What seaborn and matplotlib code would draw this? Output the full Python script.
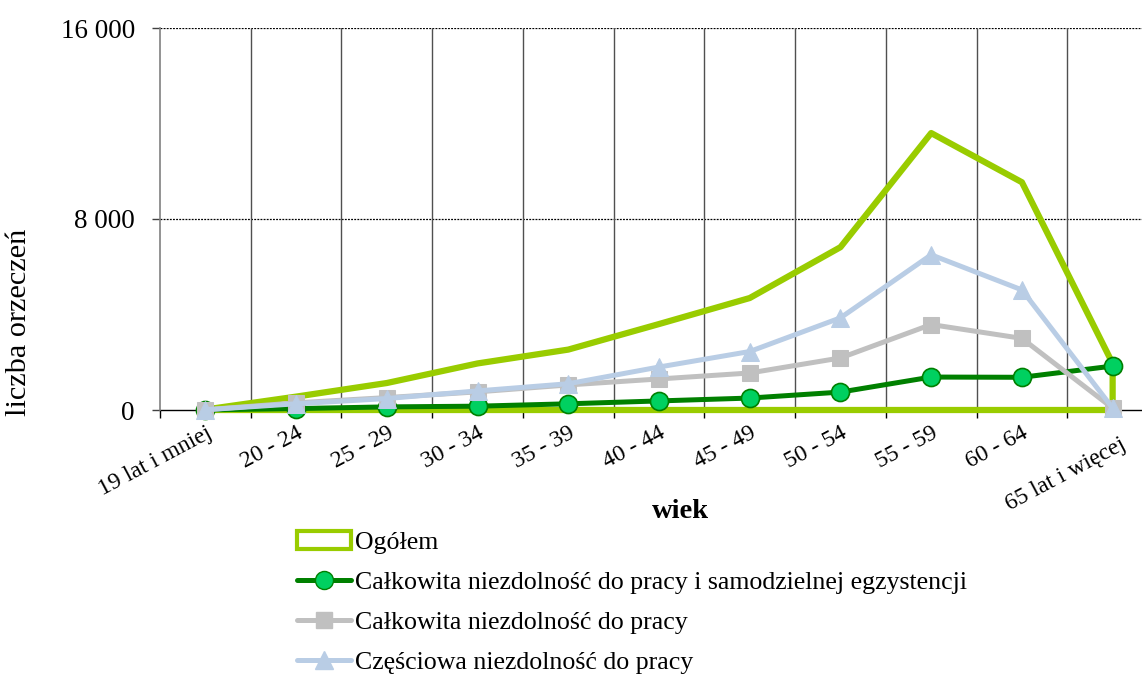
import numpy as np
import matplotlib
matplotlib.use("Agg")
import matplotlib.pyplot as plt
from matplotlib.patches import Patch
from matplotlib.lines import Line2D
from matplotlib.ticker import FuncFormatter, FixedLocator
from matplotlib.transforms import ScaledTranslation
import seaborn as sns

categories = ["19 lat i mniej", "20 - 24", "25 - 29", "30 - 34", "35 - 39", "40 - 44",
              "45 - 49", "50 - 54", "55 - 59", "60 - 64", "65 lat i więcej"]
ogolem = [20, 560, 1130, 1950, 2530, 3600, 4690, 6820, 11600, 9540, 1950]
calk_samodz = [5, 60, 130, 160, 260, 380, 500, 750, 1380, 1370, 1840]
calk = [10, 300, 520, 760, 1050, 1300, 1550, 2180, 3580, 3000, 80]
czesc = [10, 260, 480, 800, 1100, 1800, 2450, 3860, 6500, 5030, 80]
labels = ["Ogółem",
          "Całkowita niezdolność do pracy i samodzielnej egzystencji",
          "Całkowita niezdolność do pracy",
          "Częściowa niezdolność do pracy"]
yticks = [0, 8000, 16000]

sns.set_theme(style="white")
plt.rcParams['font.family'] = ['Liberation Serif', 'DejaVu Serif']
plt.rcParams['text.color'] = 'black'
plt.rcParams['axes.labelcolor'] = 'black'
plt.rcParams['xtick.color'] = 'black'
plt.rcParams['ytick.color'] = 'black'

W, H = 1142, 674
fig = plt.figure(figsize=(W / 100, H / 100), dpi=100)
ax = fig.add_axes([160 / W, (H - 410) / H, (1158 - 160) / W, (410 - 28) / H])

x = np.arange(len(categories))

c_og = "#99CC00"
c_dg = "#008000"
c_gr = "#C0C0C0"
c_bl = "#B9CDE5"

ax.fill_between(x, ogolem, 0, facecolor="none", edgecolor=c_og, linewidth=4.5,
                zorder=2, clip_on=False)

sns.lineplot(x=x, y=calk_samodz, ax=ax, color=c_dg, linewidth=3.6, marker="o",
             markersize=13, markerfacecolor="#00D060", markeredgecolor=c_dg,
             markeredgewidth=1.2, zorder=3, clip_on=False)
sns.lineplot(x=x, y=calk, ax=ax, color=c_gr, linewidth=3.6, marker="s",
             markersize=11.5, markerfacecolor=c_gr, markeredgecolor=c_gr,
             zorder=4, clip_on=False)
sns.lineplot(x=x, y=czesc, ax=ax, color=c_bl, linewidth=3.6, marker="^",
             markersize=13, markerfacecolor=c_bl, markeredgecolor=c_bl,
             zorder=5, clip_on=False)

ax.set_xlim(-0.5, len(categories) - 0.5)
ax.set_ylim(0, 16000)

# y axis
ax.yaxis.set_major_locator(FixedLocator(yticks))
ax.yaxis.set_major_formatter(FuncFormatter(lambda v, p: f"{int(v):,}".replace(",", " ")))
ax.tick_params(axis="y", direction="out", length=6, width=1, color="#404040",
               labelsize=19.5, pad=12, left=True, labelcolor="black")
for v in yticks[1:]:
    ax.axhline(v, color="black", linestyle=(0, (1.5, 1.0)), linewidth=0.9, zorder=1)

# x axis
ax.set_xticks(x)
ax.set_xticklabels(categories, rotation=28, ha="right", va="top",
                   rotation_mode="anchor")
ax.tick_params(axis="x", which="major", length=0, labelsize=17, pad=9,
               labelcolor="black")
last = ax.get_xticklabels()[-1]
last.set_transform(last.get_transform() + ScaledTranslation(0.07, -0.12, fig.dpi_scale_trans))
bounds = np.arange(-0.5, len(categories) - 0.5, 1.0)
ax.set_xticks(bounds, minor=True)
ax.tick_params(axis="x", which="minor", direction="out", length=6, width=1,
               color="black", bottom=True)
for b in bounds[1:]:
    ax.axvline(b, color="#505050", linewidth=1.0, zorder=1)

for s in ["top", "right"]:
    ax.spines[s].set_visible(False)
ax.spines["left"].set_color("#808080")
ax.spines["left"].set_linewidth(1.2)
ax.spines["bottom"].set_color("black")
ax.spines["bottom"].set_linewidth(1.0)
ax.spines["bottom"].set_zorder(1.5)

ax.set_ylabel("liczba orzeczeń", fontsize=21.8, color="black")
ax.yaxis.set_label_coords(-0.128, 0.23)
ax.set_xlabel("")
fig.text(680 / W, 1 - 511 / H, "wiek", fontsize=20.5, fontweight="bold",
         ha="center", va="center", color="black")

handles = [
    Patch(facecolor="white", edgecolor=c_og, linewidth=3),
    Line2D([], [], color=c_dg, linewidth=3.6, marker="o", markersize=13,
           markerfacecolor="#00D060", markeredgecolor=c_dg),
    Line2D([], [], color=c_gr, linewidth=3.6, marker="s", markersize=11.5,
           markerfacecolor=c_gr, markeredgecolor=c_gr),
    Line2D([], [], color=c_bl, linewidth=3.6, marker="^", markersize=13,
           markerfacecolor=c_bl, markeredgecolor=c_bl),
]
leg = fig.legend(handles, labels, loc="upper left",
                 bbox_to_anchor=(297 / W, 1 - 531 / H), bbox_transform=fig.transFigure,
                 frameon=False, fontsize=18.6, borderpad=0, borderaxespad=0,
                 handlelength=2.1, handletextpad=0.15, labelspacing=0.66,
                 handleheight=0.7)
for t in leg.get_texts():
    t.set_color("black")

fig.savefig("out.png", dpi=100)
